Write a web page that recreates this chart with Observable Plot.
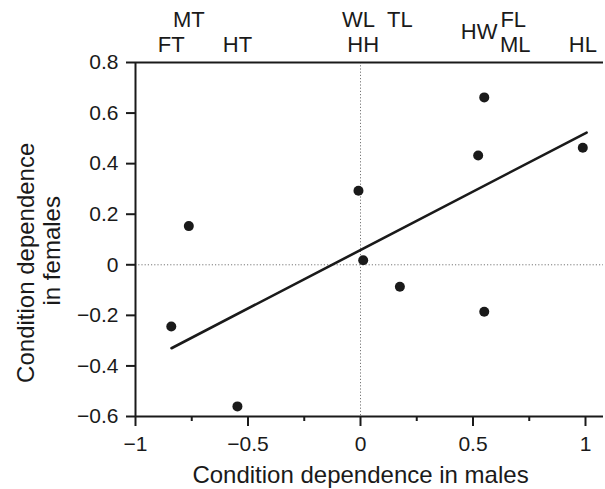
<!DOCTYPE html>
<html>
<head>
<meta charset="utf-8">
<script src="https://cdn.jsdelivr.net/npm/d3@7"></script>
<script src="https://cdn.jsdelivr.net/npm/@observablehq/plot@0.6"></script>
<style>
  html, body { margin: 0; padding: 0; background: #fff; }
  #chart { width: 605px; height: 489px; }
</style>
</head>
<body>
<div id="chart"></div>
<script>
// ---- data ----
const traits  = ["FT", "MT", "HT", "WL", "HH", "TL", "HW", "FL", "ML", "HL"];
const males   = [-0.841, -0.763, -0.547, -0.009, 0.012, 0.175, 0.523, 0.550, 0.550, 0.988];
const females = [-0.244, 0.153, -0.560, 0.293, 0.018, -0.087, 0.432, 0.662, -0.186, 0.463];
// fitted line
const fitX = [-0.84, 1.005];
const fitY = [-0.33, 0.523];
// ticks
const xTicks = [-1, -0.5, 0, 0.5, 1];
const xTickLabels = ["\u22121", "\u22120.5", "0", "0.5", "1"];
const xMinorTicks = [-0.75, -0.25, 0.25, 0.75];
const yTicks = [-0.6, -0.4, -0.2, 0, 0.2, 0.4, 0.6, 0.8];
const yTickLabels = ["\u22120.6", "\u22120.4", "\u22120.2", "0", "0.2", "0.4", "0.6", "0.8"];
const xTitle = "Condition dependence in males";
const yTitle1 = "Condition dependence";
const yTitle2 = "in females";

// ---- build ----
const points = traits.map((t, i) => ({trait: t, m: males[i], f: females[i]}));
const fit = fitX.map((x, i) => ({x, y: fitY[i]}));

// label layout (rows above the frame)
const rowDy = {1: -36, 1.5: -24, 2: -11};
const labelLayout = {
  FT: {row: 2, dx: 0}, MT: {row: 1, dx: 0}, HT: {row: 2, dx: 0},
  WL: {row: 1, dx: 0}, HH: {row: 2, dx: 0}, TL: {row: 1, dx: 0},
  HW: {row: 1.5, dx: 1}, FL: {row: 1, dx: 29}, ML: {row: 2, dx: 31},
  HL: {row: 2, dx: 0}
};

const ink = "#1a1a1a";
const font = "'Liberation Sans', Arial, Helvetica, sans-serif";

const labelMarks = points.map(p => {
  const L = labelLayout[p.trait];
  return Plot.text([p], {
    x: "m", frameAnchor: "top", text: "trait", textAnchor: "middle",
    dx: L.dx, dy: rowDy[L.row], lineAnchor: "bottom",
    fontSize: 22, fill: ink
  });
});

const chart = Plot.plot({
  width: 605,
  height: 489,
  marginLeft: 135,
  marginRight: 2,
  marginTop: 62,
  marginBottom: 73,
  style: {fontFamily: font, background: "#fff", color: ink},
  x: {domain: [-1, 1.08], axis: null},
  y: {domain: [-0.6, 0.8], axis: null},
  marks: [
    // reference lines
    Plot.ruleX([0], {stroke: "#777", strokeWidth: 1, strokeDasharray: "1.2,2"}),
    Plot.ruleY([0], {stroke: "#777", strokeWidth: 1, strokeDasharray: "1.2,2"}),
    // frame lines
    Plot.ruleY([0.8], {stroke: ink, strokeWidth: 2}),
    Plot.ruleY([-0.6], {stroke: ink, strokeWidth: 2}),
    Plot.ruleX([-1], {stroke: ink, strokeWidth: 2}),
    // axes
    Plot.axisY({
      ticks: yTicks, tickSize: 9, tickPadding: 8, strokeWidth: 2, stroke: ink,
      tickFormat: d => yTickLabels[yTicks.indexOf(d)], fontSize: 21, fill: ink, label: null
    }),
    Plot.axisX({
      ticks: xTicks, tickSize: 10, tickPadding: 10, strokeWidth: 2, stroke: ink,
      tickFormat: d => xTickLabels[xTicks.indexOf(d)], fontSize: 21, fill: ink, label: null
    }),
    Plot.axisX({
      ticks: xMinorTicks, tickSize: 5, strokeWidth: 2, stroke: ink, text: null, label: null
    }),
    // regression line
    Plot.line(fit, {x: "x", y: "y", stroke: ink, strokeWidth: 2.6}),
    // points
    Plot.dot(points, {x: "m", y: "f", r: 5, fill: ink, stroke: null}),
    // trait labels above
    ...labelMarks,
    // axis titles
    Plot.text([xTitle], {x: 0, frameAnchor: "bottom", textAnchor: "middle", dy: 66, lineAnchor: "bottom", fontSize: 24, fill: ink, text: d => d}),
    Plot.text([yTitle1], {y: 0, frameAnchor: "left", textAnchor: "middle", dx: -102, dy: -2, rotate: -90, lineAnchor: "bottom", fontSize: 24, fill: ink, text: d => d}),
    Plot.text([yTitle2], {y: 0, frameAnchor: "left", textAnchor: "middle", dx: -76, dy: -14, rotate: -90, lineAnchor: "bottom", fontSize: 24, fill: ink, text: d => d})
  ]
});
document.getElementById("chart").appendChild(chart);
</script>
</body>
</html>
